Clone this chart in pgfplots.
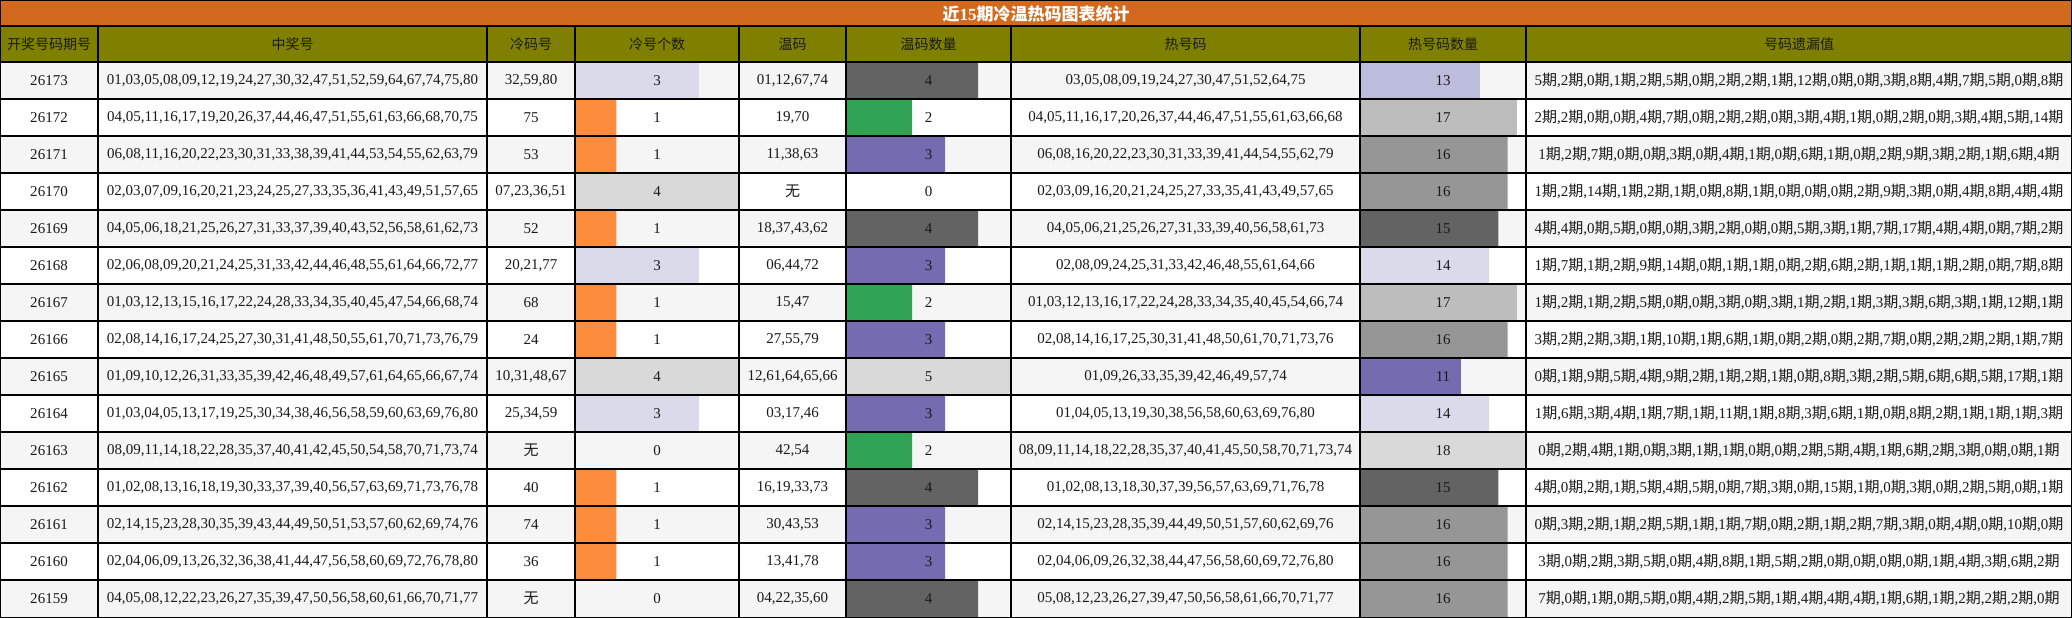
\documentclass[border=0pt]{standalone}
\usepackage{fontspec}
\setmainfont{Liberation Serif}
\newfontfamily\cjk{Noto Sans CJK SC}
\usepackage{pgfplots}
\pgfplotsset{compat=1.18}

\definecolor{titlebg}{HTML}{D2691E}
\definecolor{headbg}{HTML}{808000}
\definecolor{stripe}{HTML}{F5F5F5}
\definecolor{txt}{HTML}{1A1A1A}
% bar colours
\definecolor{lav}{HTML}{DADAEB}
\definecolor{ora}{HTML}{FD8D3C}
\definecolor{lgr}{HTML}{D9D9D9}
\definecolor{dgr}{HTML}{636363}
\definecolor{grn}{HTML}{31A354}
\definecolor{pur}{HTML}{756BB1}
\definecolor{lpu}{HTML}{BCBDDC}
\definecolor{mgr}{HTML}{BDBDBD}
\definecolor{ggr}{HTML}{969696}

\pgfplotsset{
  barcol/.style={anchor=north west, scale only axis, height=555pt,
    xmin=0, ymin=0.5, ymax=15.5, y dir=reverse, hide axis,
    enlargelimits=false, xbar, bar width=1, bar shift=0pt,
    every axis plot/.append style={draw=none, bar shift=0pt}},
}

\def\q{{\cjk 期}}
\newcommand\misslist[1]{\foreach \v [count=\k] in {#1}{\ifnum\k>1 ,\fi\v\q}}
\newcount\ri
\newcommand\row[9]{%
  \global\advance\ri by 1
  \pgfmathsetmacro\yy{43.5+37*\the\ri}%
  \node[t] at (49,\yy) {#1};
  \node[t] at (292.5,\yy) {#2};
  \node[t] at (531,\yy) {#3};
  \node[t] at (657,\yy) {#4};
  \node[t] at (792.5,\yy) {#5};
  \node[t] at (928.5,\yy) {#6};
  \node[t] at (1185.5,\yy) {#7};
  \node[t] at (1443,\yy) {#8};
  \node[t] at (1799,\yy) {\misslist{#9}};
}
\newcommand\wu{{\cjk 无}}

\begin{document}
\begin{tikzpicture}[x=1pt, y=-1pt,
  t/.style={font=\fontsize{15}{18}\selectfont, text=txt, inner sep=0pt},
  h/.style={font=\cjk\fontsize{14}{17}\selectfont, text=txt, inner sep=0pt}]
\useasboundingbox (0,0) rectangle (2072,618);
% backgrounds
\fill[white] (0,0) rectangle (2072,618);
\fill[titlebg] (0,0) rectangle (2072,26);
\fill[headbg] (0,26) rectangle (2072,62);
\foreach \i in {0,2,...,14} {
  \fill[stripe] (0,{62+37*\i}) rectangle (2072,{99+37*\i});
}

% 冷号个数
\begin{axis}[barcol, at={(575pt,-62pt)}, width=165pt, xmax=4]
\addplot[fill=lav] coordinates {(3,1) (3,6) (3,10)};
\addplot[fill=ora] coordinates {(1,2) (1,3) (1,5) (1,7) (1,8) (1,12) (1,13) (1,14)};
\addplot[fill=lgr] coordinates {(4,4) (4,9)};
\end{axis}

% 温码数量
\begin{axis}[barcol, at={(846pt,-62pt)}, width=165pt, xmax=5]
\addplot[fill=dgr] coordinates {(4,1) (4,5) (4,12) (4,15)};
\addplot[fill=grn] coordinates {(2,2) (2,7) (2,11)};
\addplot[fill=pur] coordinates {(3,3) (3,6) (3,8) (3,10) (3,13) (3,14)};
\addplot[fill=lgr] coordinates {(5,9)};
\end{axis}

% 热号码数量
\begin{axis}[barcol, at={(1360pt,-62pt)}, width=166pt, xmax=18]
\addplot[fill=lpu] coordinates {(13,1)};
\addplot[fill=mgr] coordinates {(17,2) (17,7)};
\addplot[fill=ggr] coordinates {(16,3) (16,4) (16,8) (16,13) (16,14) (16,15)};
\addplot[fill=dgr] coordinates {(15,5) (15,12)};
\addplot[fill=lav] coordinates {(14,6) (14,10)};
\addplot[fill=pur] coordinates {(11,9)};
\addplot[fill=lgr] coordinates {(18,11)};
\end{axis}

% title and header
\node[text=white, inner sep=0pt, font=\cjk\bfseries\fontsize{17}{20}\selectfont] at (1036,14) {近{\rmfamily 15}期冷温热码图表统计};
\node[h] at (49,44) {开奖号码期号};
\node[h] at (292.5,44) {中奖号};
\node[h] at (531,44) {冷码号};
\node[h] at (657,44) {冷号个数};
\node[h] at (792.5,44) {温码};
\node[h] at (928.5,44) {温码数量};
\node[h] at (1185.5,44) {热号码};
\node[h] at (1443,44) {热号码数量};
\node[h] at (1799,44) {号码遗漏值};

% table rows
\row{26173}{01,03,05,08,09,12,19,24,27,30,32,47,51,52,59,64,67,74,75,80}{32,59,80}{3}{01,12,67,74}{4}{03,05,08,09,19,24,27,30,47,51,52,64,75}{13}{5,2,0,1,2,5,0,2,2,1,12,0,0,3,8,4,7,5,0,8}
\row{26172}{04,05,11,16,17,19,20,26,37,44,46,47,51,55,61,63,66,68,70,75}{75}{1}{19,70}{2}{04,05,11,16,17,20,26,37,44,46,47,51,55,61,63,66,68}{17}{2,2,0,0,4,7,0,2,2,0,3,4,1,0,2,0,3,4,5,14}
\row{26171}{06,08,11,16,20,22,23,30,31,33,38,39,41,44,53,54,55,62,63,79}{53}{1}{11,38,63}{3}{06,08,16,20,22,23,30,31,33,39,41,44,54,55,62,79}{16}{1,2,7,0,0,3,0,4,1,0,6,1,0,2,9,3,2,1,6,4}
\row{26170}{02,03,07,09,16,20,21,23,24,25,27,33,35,36,41,43,49,51,57,65}{07,23,36,51}{4}{\wu}{0}{02,03,09,16,20,21,24,25,27,33,35,41,43,49,57,65}{16}{1,2,14,1,2,1,0,8,1,0,0,0,2,9,3,0,4,8,4,4}
\row{26169}{04,05,06,18,21,25,26,27,31,33,37,39,40,43,52,56,58,61,62,73}{52}{1}{18,37,43,62}{4}{04,05,06,21,25,26,27,31,33,39,40,56,58,61,73}{15}{4,4,0,5,0,0,3,2,0,0,5,3,1,7,17,4,4,0,7,2}
\row{26168}{02,06,08,09,20,21,24,25,31,33,42,44,46,48,55,61,64,66,72,77}{20,21,77}{3}{06,44,72}{3}{02,08,09,24,25,31,33,42,46,48,55,61,64,66}{14}{1,7,1,2,9,14,0,1,1,0,2,6,2,1,1,1,2,0,7,8}
\row{26167}{01,03,12,13,15,16,17,22,24,28,33,34,35,40,45,47,54,66,68,74}{68}{1}{15,47}{2}{01,03,12,13,16,17,22,24,28,33,34,35,40,45,54,66,74}{17}{1,2,1,2,5,0,0,3,0,3,1,2,1,3,3,6,3,1,12,1}
\row{26166}{02,08,14,16,17,24,25,27,30,31,41,48,50,55,61,70,71,73,76,79}{24}{1}{27,55,79}{3}{02,08,14,16,17,25,30,31,41,48,50,61,70,71,73,76}{16}{3,2,2,3,1,10,1,6,1,0,2,0,2,7,0,2,2,2,1,7}
\row{26165}{01,09,10,12,26,31,33,35,39,42,46,48,49,57,61,64,65,66,67,74}{10,31,48,67}{4}{12,61,64,65,66}{5}{01,09,26,33,35,39,42,46,49,57,74}{11}{0,1,9,5,4,9,2,1,2,1,0,8,3,2,5,6,6,5,17,1}
\row{26164}{01,03,04,05,13,17,19,25,30,34,38,46,56,58,59,60,63,69,76,80}{25,34,59}{3}{03,17,46}{3}{01,04,05,13,19,30,38,56,58,60,63,69,76,80}{14}{1,6,3,4,1,7,1,11,1,8,3,6,1,0,8,2,1,1,1,3}
\row{26163}{08,09,11,14,18,22,28,35,37,40,41,42,45,50,54,58,70,71,73,74}{\wu}{0}{42,54}{2}{08,09,11,14,18,22,28,35,37,40,41,45,50,58,70,71,73,74}{18}{0,2,4,1,0,3,1,1,0,0,2,5,4,1,6,2,3,0,0,1}
\row{26162}{01,02,08,13,16,18,19,30,33,37,39,40,56,57,63,69,71,73,76,78}{40}{1}{16,19,33,73}{4}{01,02,08,13,18,30,37,39,56,57,63,69,71,76,78}{15}{4,0,2,1,5,4,5,0,7,3,0,15,1,0,3,0,2,5,0,1}
\row{26161}{02,14,15,23,28,30,35,39,43,44,49,50,51,53,57,60,62,69,74,76}{74}{1}{30,43,53}{3}{02,14,15,23,28,35,39,44,49,50,51,57,60,62,69,76}{16}{0,3,2,1,2,5,1,1,7,0,2,1,2,7,3,0,4,0,10,0}
\row{26160}{02,04,06,09,13,26,32,36,38,41,44,47,56,58,60,69,72,76,78,80}{36}{1}{13,41,78}{3}{02,04,06,09,26,32,38,44,47,56,58,60,69,72,76,80}{16}{3,0,2,3,5,0,4,8,1,5,2,0,0,0,0,1,4,3,6,2}
\row{26159}{04,05,08,12,22,23,26,27,35,39,47,50,56,58,60,61,66,70,71,77}{\wu}{0}{04,22,35,60}{4}{05,08,12,23,26,27,39,47,50,56,58,61,66,70,71,77}{16}{7,0,1,0,5,0,4,2,5,1,4,4,4,1,6,1,2,2,2,0}

% grid lines
\foreach \i in {1,...,14} {
  \draw[black, line width=1.4pt] (0,{62+37*\i}) -- (2072,{62+37*\i});
}
\draw[black, line width=1.4pt] (0,62) -- (2072,62);
\draw[black, line width=2.6pt] (0,26) -- (2072,26);
\foreach \xx in {98,487,575,739,846,1011,1360,1526} {
  \draw[black, line width=1.4pt] (\xx,26) -- (\xx,618);
}
\draw[black, line width=2.4pt] (0,0) rectangle (2072,618);
\end{tikzpicture}
\end{document}
